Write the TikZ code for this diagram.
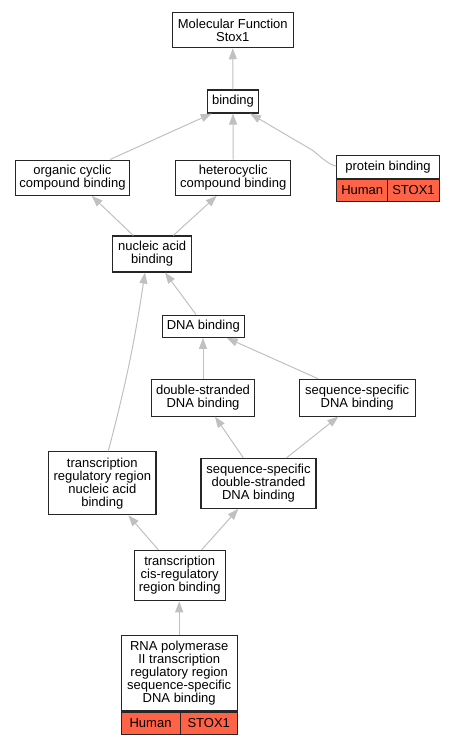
\documentclass[tikz,border=0pt]{standalone}
\usepackage{fontspec}
\setmainfont{Liberation Sans}
\usetikzlibrary{arrows.meta}
\definecolor{hitred}{RGB}{255,99,71}
\definecolor{edgegray}{RGB}{192,192,192}
\tikzset{
  term/.style={draw=black!85, line width=1.1pt, fill=white, align=center,
    inner sep=0pt, font=\fontsize{13}{13}\selectfont},
  hit/.style={term, fill=hitred},
  isa/.style={draw=edgegray, line width=1pt,
    -{Triangle[length=11pt,width=8pt,fill=edgegray]}}
}

\begin{document}
\begin{tikzpicture}[x=1pt, y=-1pt]
   \useasboundingbox (0,0) rectangle (455,744);
   % terms
   \node[term, minimum width=121pt, minimum height=35.4pt] (mf) at (232.8,30) {Molecular Function\\Stox1};
   \node[term, minimum width=51.4pt, minimum height=23pt] (bind) at (233,101.5) {binding};
   \node[term, minimum width=114.7pt, minimum height=35.3pt] (org) at (72.4,177.7) {organic cyclic\\compound binding};
   \node[term, minimum width=115pt, minimum height=35.3pt] (het) at (233.2,177.7) {heterocyclic\\compound binding};
   \node[term, minimum width=102.6pt, minimum height=22.6pt] (prot) at (388,167) {protein binding};
   \node[term, minimum width=79pt, minimum height=36pt] (nuc) at (152.2,254) {nucleic acid\\binding};
   \node[term, minimum width=82pt, minimum height=22.3pt] (dna) at (203.3,326.2) {DNA binding};
   \node[term, minimum width=103.4pt, minimum height=36.7pt] (ds) at (203,397.7) {double-stranded\\DNA binding};
   \node[term, minimum width=115.7pt, minimum height=36.7pt] (ss) at (357.2,397.7) {sequence-specific\\DNA binding};
   \node[term, minimum width=107.3pt, minimum height=63pt] (trr) at (102.3,483.2) {transcription\\regulatory region\\nucleic acid\\binding};
   \node[term, minimum width=115pt, minimum height=50pt] (ssds) at (258.5,483.3) {sequence-specific\\double-stranded\\DNA binding};
   \node[term, minimum width=91.3pt, minimum height=50.4pt] (tcis) at (179.7,575.5) {transcription\\cis-regulatory\\region binding};
   \node[term, minimum width=116.3pt, minimum height=75.3pt] (rna) at (179.2,673.3) {RNA polymerase\\II transcription\\regulatory region\\sequence-specific\\DNA binding};

   % annotations
   \node[hit, anchor=north west, minimum width=51pt, minimum height=22pt] (protH) at (prot.south west) {Human};
   \node[hit, anchor=north east, minimum width=51.6pt, minimum height=22pt] (protS) at (prot.south east) {STOX1};
   \node[hit, anchor=north west, minimum width=59pt, minimum height=22.3pt] (rnaH) at (rna.south west) {Human};
   \node[hit, anchor=north east, minimum width=57.3pt, minimum height=22.3pt] (rnaS) at (rna.south east) {STOX1};

   % is_a edges
   \draw[isa] (bind.north) -- (mf.south);
   \draw[isa] ([xshift=37.6pt]org.north) -- ([xshift=-21.3pt]bind.south);
   \draw[isa] (het.north) -- (bind.south);
   \draw[isa] ([yshift=1pt]prot.west) .. controls (328,165) and (318,154) .. (312,150) -- ([xshift=17pt]bind.south);
   \draw[isa] ([xshift=-18.9pt]nuc.north) -- ([xshift=19.3pt]org.south);
   \draw[isa] ([xshift=21.1pt]nuc.north) -- ([xshift=-16.5pt]het.south);
   \draw[isa] ([xshift=-7.3pt]dna.north) -- ([xshift=12.8pt]nuc.south);
   \draw[isa] ([xshift=6pt]trr.north) to[bend right=3] ([xshift=-7.2pt]nuc.south);
   \draw[isa] (ds.north) -- (ds.north |- dna.south);
   \draw[isa] ([xshift=-38.9pt]ss.north) -- ([xshift=23.4pt]dna.south);
   \draw[isa] ([xshift=-15.2pt]ssds.north) -- ([xshift=12pt]ds.south);
   \draw[isa] ([xshift=28.2pt]ssds.north) -- ([xshift=-18.9pt]ss.south);
   \draw[isa] ([xshift=-21.4pt]tcis.north) -- ([xshift=26pt]trr.south);
   \draw[isa] ([xshift=22pt]tcis.north) -- ([xshift=-20.2pt]ssds.south);
   \draw[isa] (rna.north) -- (rna.north |- tcis.south);
\end{tikzpicture}
\end{document}
